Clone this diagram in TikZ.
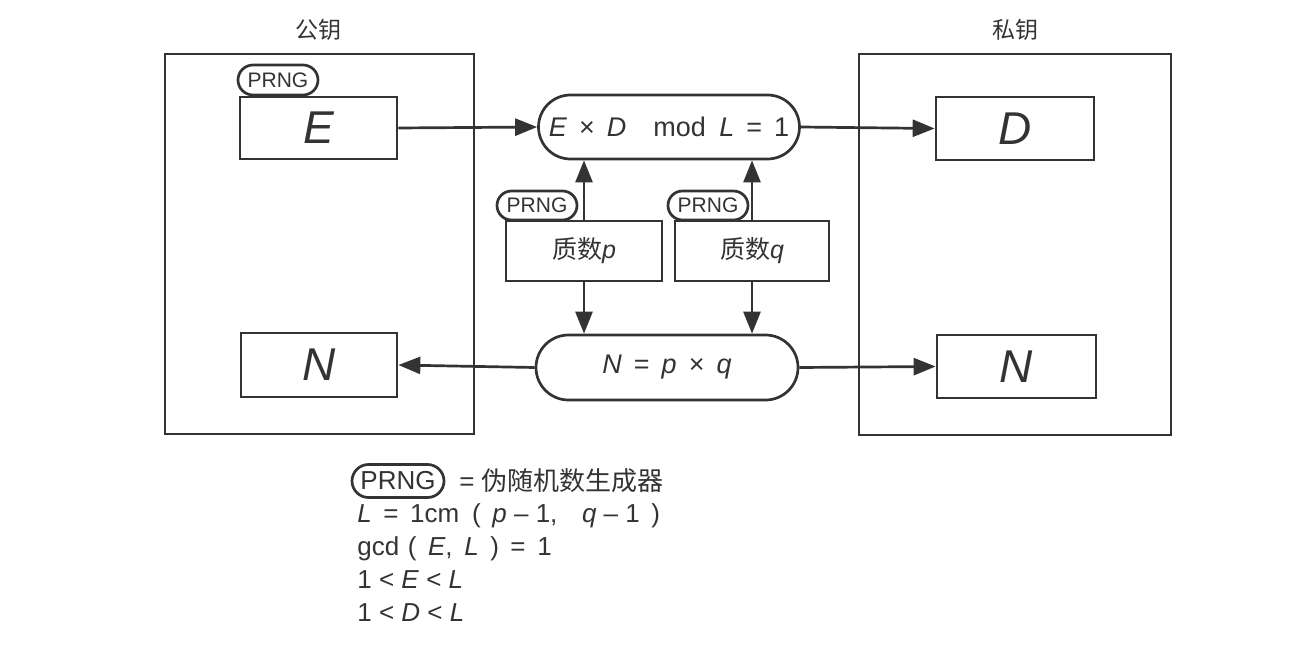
\documentclass[tikz,border=0pt]{standalone}
\usepackage{fontspec}
\setmainfont{Liberation Sans}
\newfontfamily\cjk{Noto Sans CJK SC}
\usetikzlibrary{arrows.meta,shapes.misc}
\definecolor{ink}{HTML}{333333}
\begin{document}
\begin{tikzpicture}[x=1pt,y=-1pt,
  line width=2.7pt, draw=ink, text=ink,
  bigbox/.style={draw, rectangle, inner sep=0pt},
  valbox/.style={draw, rectangle, inner sep=0pt, font=\fontsize{46}{46}\selectfont\itshape},
  primebox/.style={draw, rectangle, inner sep=0pt, font=\fontsize{25}{25}\selectfont},
  pill/.style={draw, rounded rectangle, inner sep=0pt, font=\fontsize{27}{27}\selectfont},
  prng/.style={draw, rounded rectangle, inner sep=0pt, fill=white, font=\fontsize{21}{21}\selectfont, minimum width=80pt, minimum height=30pt},
  title/.style={font=\cjk\fontsize{23}{23}\selectfont},
  arr/.style={-{Triangle[length=22pt,width=17pt]}, draw=ink, line width=2.7pt},
  legend/.style={anchor=base west, inner sep=0pt, font=\fontsize{26}{26}\selectfont}
]
\useasboundingbox (0,0) rectangle (1296,650);
% big boxes
\node[bigbox, minimum width=309pt, minimum height=380pt] (pub) at (319.5,244) {};
\node[bigbox, minimum width=312pt, minimum height=381pt] (priv) at (1015,244.5) {};
\node[title] (tpub) at (318,30) {公钥};
\node[title] (tpriv) at (1015,30) {私钥};
% value boxes
\node[valbox, minimum width=157pt, minimum height=62pt, fill=white] (E) at (318.5,128) {E};
\node[valbox, minimum width=158pt, minimum height=63pt, fill=white] (D) at (1015,128.5) {D};
\node[valbox, minimum width=156pt, minimum height=64pt, fill=white] (N1) at (319,365) {N};
\node[valbox, minimum width=159pt, minimum height=63pt, fill=white] (N2) at (1016.5,366.5) {N};
% pills
\node[pill, minimum width=261pt, minimum height=64pt] (top) at (669,127)
  {\textit{E}\, × \,\textit{D}\quad mod\enspace \textit{L}\, = \,1};
\node[pill, minimum width=262pt, minimum height=65pt] (prod) at (667,367.5)
  {\textit{N}\, = \,\textit{p}\, × \,\textit{q}};
% prime boxes
\node[primebox, minimum width=156pt, minimum height=60pt] (p) at (584,251) {{\cjk 质数}\textit{p}};
\node[primebox, minimum width=154pt, minimum height=60pt] (q) at (752,251) {{\cjk 质数}\textit{q}};
% PRNG tags
\node[prng] (gE) at (278,80) {PRNG};
\node[prng, minimum height=29pt] (gp) at (537,205.5) {PRNG};
\node[prng, minimum height=29pt] (gq) at (708,205.5) {PRNG};
% arrows
\draw[arr] (E.east) -- (top.west);
\draw[arr] (top.east) -- (D.west);
\draw[arr] (p.north) -- (p.north |- top.south);
\draw[arr] (q.north) -- (q.north |- top.south);
\draw[arr] (p.south) -- (p.south |- prod.north);
\draw[arr] (q.south) -- (q.south |- prod.north);
\draw[arr] (prod.west) -- (N1.east);
\draw[arr] (prod.east) -- (N2.west);
% legend
\node[prng, minimum width=92pt, minimum height=33pt, font=\fontsize{26}{26}\selectfont] (gL) at (398,481) {PRNG};
\node[anchor=west, inner sep=0pt, font=\fontsize{26}{26}\selectfont] (leg0) at (458,481) {= {\cjk 伪随机数生成器}};
\node[legend] (leg1) at (356,522) {\textit{L}\, = \,1cm\enspace (\, \textit{p} – 1,\enspace\, \textit{q} – 1\, )};
\node[legend] (leg2) at (356,555) {gcd\,\,(\, \textit{E},\, \textit{L}\, ) \,=\, 1};
\node[legend] (leg3) at (356,588) {1 < \textit{E} < \textit{L}};
\node[legend] (leg4) at (356,621) {1 < \textit{D} < \textit{L}};
\end{tikzpicture}
\end{document}
